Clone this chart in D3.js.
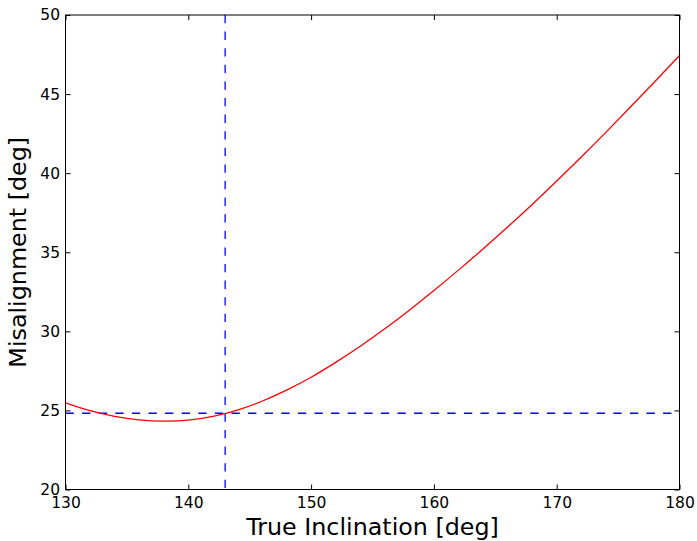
<!DOCTYPE html>
<html>
<head>
<meta charset="utf-8">
<script src="https://cdn.jsdelivr.net/npm/d3@7"></script>
<style>
  html, body { margin: 0; padding: 0; background: #fff; }
  svg { display: block; }
  text { font-family: "DejaVu Sans", sans-serif; fill: #000; }
</style>
</head>
<body>
<script>
// ---- data ----
const inclination = [130, 132, 134, 136, 138, 140, 142, 144, 146, 148, 150, 152, 154, 156, 158, 160, 162, 164, 166, 168, 170, 172, 174, 176, 178, 180];
const misalignment = [25.48, 24.98, 24.62, 24.40, 24.32, 24.38, 24.62, 25.02, 25.58, 26.28, 27.10, 28.04, 29.06, 30.16, 31.34, 32.58, 33.87, 35.21, 36.59, 38.02, 39.50, 41.02, 42.58, 44.18, 45.80, 47.44];
const refInclination = 143.0;
const refMisalignment = 24.82;
const xTicks = [130, 140, 150, 160, 170, 180];
const yTicks = [20, 25, 30, 35, 40, 45, 50];
const xLabel = "True Inclination [deg]";
const yLabel = "Misalignment [deg]";

// ---- layout ----
const W = 697, H = 541;
const pL = 65.5, pR = 679.5, pT = 15, pB = 489.5;

const svg = d3.select("body").append("svg").attr("width", W).attr("height", H);

const x = d3.scaleLinear().domain([130, 180]).range([pL, pR]);
const y = d3.scaleLinear().domain([20, 50]).range([pB, pT]);

// clip
svg.append("clipPath").attr("id", "clip").append("rect")
  .attr("x", pL).attr("y", pT).attr("width", pR - pL).attr("height", pB - pT);

const plot = svg.append("g").attr("clip-path", "url(#clip)");

// dashed reference lines
plot.append("line")
  .attr("x1", x(130)).attr("x2", x(180))
  .attr("y1", y(refMisalignment)).attr("y2", y(refMisalignment))
  .attr("stroke", "#0000ff").attr("stroke-width", 1.3).attr("stroke-dasharray", "8.3,8.3");
plot.append("line")
  .attr("x1", x(refInclination)).attr("x2", x(refInclination))
  .attr("y1", y(50)).attr("y2", y(20))
  .attr("stroke", "#0000ff").attr("stroke-width", 1.3).attr("stroke-dasharray", "8.3,8.3");

// curve
const pts = inclination.map((d, i) => [d, misalignment[i]]);
const line = d3.line().x(d => x(d[0])).y(d => y(d[1])).curve(d3.curveNatural);
plot.append("path").datum(pts)
  .attr("d", line).attr("fill", "none").attr("stroke", "#ff0000").attr("stroke-width", 1.3);

// axes (ticks inside)
const tl = 5;
const axB = d3.axisBottom(x).tickValues(xTicks).tickSizeInner(-tl).tickSizeOuter(0).tickPadding(7.8).tickFormat(d3.format("d"));
const axT = d3.axisTop(x).tickValues(xTicks).tickSizeInner(-tl).tickSizeOuter(0).tickFormat("");
const axL = d3.axisLeft(y).tickValues(yTicks).tickSizeInner(-tl).tickSizeOuter(0).tickPadding(5.5).tickFormat(d3.format("d"));
const axR = d3.axisRight(y).tickValues(yTicks).tickSizeInner(-tl).tickSizeOuter(0).tickFormat("");

function style(g) {
  g.select(".domain").remove();
  g.selectAll(".tick line").attr("stroke", "#000").attr("stroke-width", 1);
  g.selectAll(".tick text").attr("font-family", "DejaVu Sans").attr("font-size", 15.5).attr("fill", "#000");
}
svg.append("g").attr("transform", `translate(0,${pB})`).call(axB).call(style);
svg.append("g").attr("transform", `translate(0,${pT})`).call(axT).call(style);
svg.append("g").attr("transform", `translate(${pL},0)`).call(axL).call(style);
svg.append("g").attr("transform", `translate(${pR},0)`).call(axR).call(style);

// frame
svg.append("rect")
  .attr("x", pL).attr("y", pT).attr("width", pR - pL).attr("height", pB - pT)
  .attr("fill", "none").attr("stroke", "#000").attr("stroke-width", 1);

// axis labels
svg.append("text")
  .attr("x", (pL + pR) / 2).attr("y", 535)
  .attr("text-anchor", "middle").attr("font-size", 23.8)
  .text(xLabel);
svg.append("text")
  .attr("transform", `translate(26,${(pT + pB) / 2}) rotate(-90)`)
  .attr("text-anchor", "middle").attr("font-size", 23.8)
  .text(yLabel);
</script>
</body>
</html>
